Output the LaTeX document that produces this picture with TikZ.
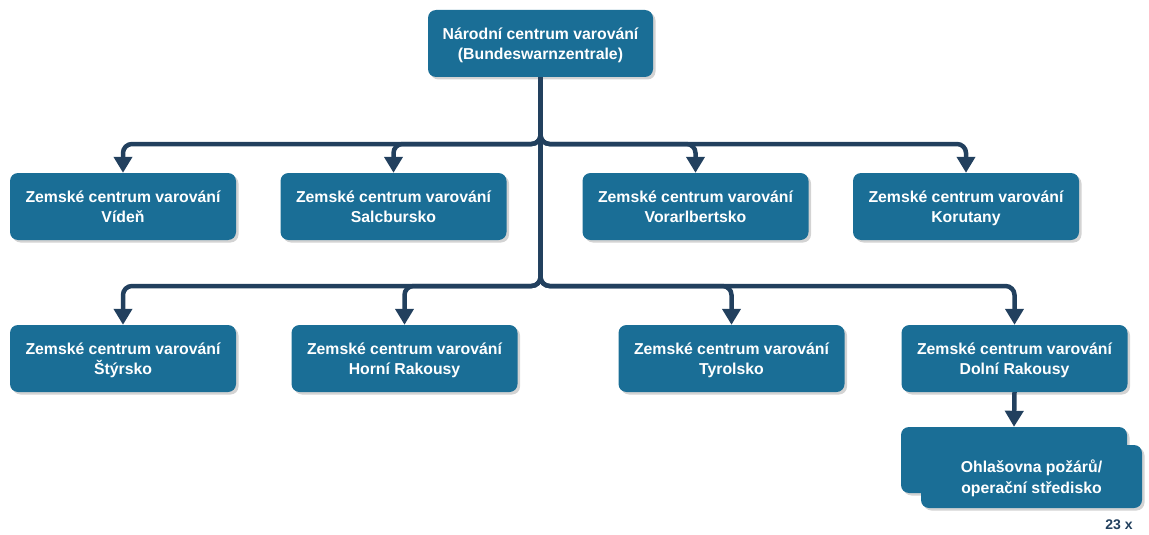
\documentclass[tikz,border=0pt]{standalone}
\usepackage{fontspec}
\setmainfont{Liberation Sans}
\usetikzlibrary{arrows.meta,shadows}
\definecolor{boxblue}{RGB}{26,110,150}
\definecolor{navy}{RGB}{34,64,94}
\tikzset{
  zbox/.style={rounded corners=8pt, fill=boxblue, text=white, align=center,
    minimum width=226pt, minimum height=67pt, inner sep=0pt, text depth=-1pt,
    font=\fontsize{15.8pt}{20.5pt}\selectfont\bfseries,
    drop shadow={shadow xshift=2.5pt, shadow yshift=-2.5pt, opacity=0.35, fill=gray}},
  conn/.style={draw=navy, line width=4.5pt, rounded corners=9pt,
    -{Triangle[width=18pt,length=16pt]}}
}
\begin{document}
\begin{tikzpicture}[x=1pt,y=-1pt]
\useasboundingbox (0,0) rectangle (1149,535);
% top
\node[zbox, minimum width=225pt] (top) at (540.5,43.5) {Národní centrum varování\\(Bundeswarnzentrale)};
% row 1
\node[zbox] (vid) at (123,206.5) {Zemské centrum varování\\Vídeň};
\node[zbox] (sal) at (393.5,206.5) {Zemské centrum varování\\Salcbursko};
\node[zbox] (vor) at (695.5,206.5) {Zemské centrum varování\\Vorarlbertsko};
\node[zbox] (kor) at (966,206.5) {Zemské centrum varování\\Korutany};
% row 2
\node[zbox] (sty) at (123,358.5) {Zemské centrum varování\\Štýrsko};
\node[zbox] (hor) at (404.5,358.5) {Zemské centrum varování\\Horní Rakousy};
\node[zbox] (tyr) at (731.5,358.5) {Zemské centrum varování\\Tyrolsko};
\node[zbox] (dol) at (1014.5,358.5) {Zemské centrum varování\\Dolní Rakousy};
% stacked box
\node[zbox, minimum height=66pt] (ohlb) at (1014,460) {};
\node[zbox, minimum width=221pt, minimum height=63pt] (ohl) at (1031.5,476.5) {Ohlašovna požárů/\\operační středisko};
% counter
\node[text=navy, font=\fontsize{14pt}{16pt}\selectfont\bfseries] (cnt) at (1119,525) {23 x};
% buses
\coordinate (b1) at (540.5,144);
\coordinate (b2) at (540.5,286);
% connectors
\draw[conn] (top.south) -- (b1) -| (vid.north);
\draw[conn] (top.south) -- (b1) -| (sal.north);
\draw[conn] (top.south) -- (b1) -| (vor.north);
\draw[conn] (top.south) -- (b1) -| (kor.north);
\draw[conn] (top.south) -- (b2) -| (sty.north);
\draw[conn] (top.south) -- (b2) -| (hor.north);
\draw[conn] (top.south) -- (b2) -| (tyr.north);
\draw[conn] (top.south) -- (b2) -| (dol.north);
\draw[conn] (dol.south) -- (ohlb.north);
\end{tikzpicture}
\end{document}
